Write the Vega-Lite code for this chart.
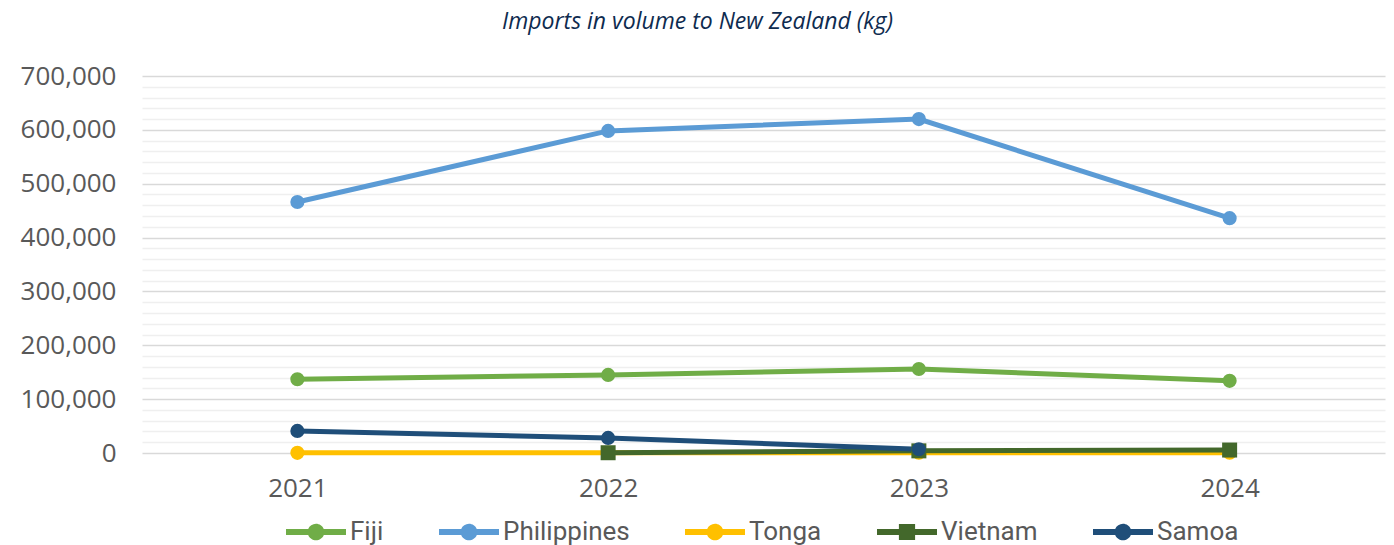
{
  "$schema": "https://vega.github.io/schema/vega-lite/v6.json",
  "autosize": {"type": "none"},
  "width": 1243,
  "height": 377,
  "padding": {"left": 142, "top": 76, "right": 9, "bottom": 92},
  "background": "white",
  "config": {"view": {"stroke": null}},
  "title": {
    "text": "Imports in volume to New Zealand (kg)",
    "font": "Open Sans",
    "fontStyle": "italic",
    "fontWeight": "normal",
    "fontSize": 23,
    "color": "#0e2b4f",
    "anchor": "middle",
    "dx": -66,
    "offset": 29
  },
  "data": {
    "values": [
      {"year": "2021", "country": "Fiji", "value": 137000},
      {"year": "2022", "country": "Fiji", "value": 145000},
      {"year": "2023", "country": "Fiji", "value": 156000},
      {"year": "2024", "country": "Fiji", "value": 134000},
      {"year": "2021", "country": "Philippines", "value": 466000},
      {"year": "2022", "country": "Philippines", "value": 598000},
      {"year": "2023", "country": "Philippines", "value": 620000},
      {"year": "2024", "country": "Philippines", "value": 436000},
      {"year": "2021", "country": "Tonga", "value": 300},
      {"year": "2022", "country": "Tonga", "value": 300},
      {"year": "2023", "country": "Tonga", "value": 500},
      {"year": "2024", "country": "Tonga", "value": 500},
      {"year": "2022", "country": "Vietnam", "value": 500},
      {"year": "2023", "country": "Vietnam", "value": 4000},
      {"year": "2024", "country": "Vietnam", "value": 5500},
      {"year": "2021", "country": "Samoa", "value": 41000},
      {"year": "2022", "country": "Samoa", "value": 28000},
      {"year": "2023", "country": "Samoa", "value": 7000}
    ]
  },
  "encoding": {
    "x": {
      "field": "year", "type": "ordinal",
      "scale": {"type": "point", "padding": 0.5},
      "axis": {
        "title": null, "domain": false, "ticks": false, "grid": false,
        "labelAngle": 0, "labelFont": "Open Sans", "labelFontSize": 26,
        "labelColor": "#595959", "labelPadding": 22
      }
    },
    "y": {
      "field": "value", "type": "quantitative",
      "scale": {"domain": [0, 700000], "nice": false},
      "axis": {
        "title": null, "domain": false, "ticks": false,
        "values": [0,20000,40000,60000,80000,100000,120000,140000,160000,180000,200000,220000,240000,260000,280000,300000,320000,340000,360000,380000,400000,420000,440000,460000,480000,500000,520000,540000,560000,580000,600000,620000,640000,660000,680000,700000],
        "labelExpr": "datum.value % 100000 === 0 ? format(datum.value, ',') : ''",
        "labelFont": "Open Sans", "labelFontSize": 26, "labelColor": "#595959",
        "labelPadding": 26,
        "gridColor": {"condition": {"test": "datum.value % 100000 === 0", "value": "#d9d9d9"}, "value": "#efefef"},
        "gridWidth": 1.5
      }
    },
    "color": {
      "field": "country", "type": "nominal",
      "sort": ["Fiji", "Philippines", "Tonga", "Vietnam", "Samoa"],
      "scale": {
        "domain": ["Fiji", "Philippines", "Tonga", "Vietnam", "Samoa"],
        "range": ["#70ad47", "#5b9bd5", "#ffc000", "#43682b", "#1f4e79"]
      }
    }
  },
  "layer": [
    {
      "mark": {"type": "line", "strokeWidth": 5},
      "encoding": {
        "color": {
          "field": "country", "type": "nominal",
          "sort": ["Fiji", "Philippines", "Tonga", "Vietnam", "Samoa"],
          "legend": {
            "orient": "none",
            "legendX": 144,
            "legendY": 426,
            "direction": "horizontal",
            "title": null,
            "columnPadding": 55,
            "symbolSize": 3600,
            "symbolType": "M-1,-0.1L1,-0.1L1,0.1L-1,0.1Z",
            "symbolStrokeWidth": 0,
            "labelFont": "Roboto",
            "labelFontSize": 26,
            "labelColor": "#595959",
            "labelOffset": 4,
            "encode": {
              "symbols": {
                "update": {
                  "shape": {"signal": "datum.value === 'Vietnam' ? 'M-1,-0.1L-0.27,-0.1L-0.27,-0.27L0.27,-0.27L0.27,-0.1L1,-0.1L1,0.1L0.27,0.1L0.27,0.27L-0.27,0.27L-0.27,0.1L-1,0.1Z' : 'M-1,-0.1L-0.26,-0.1A0.28,0.28 0 0,1 0.26,-0.1L1,-0.1L1,0.1L0.26,0.1A0.28,0.28 0 0,1 -0.26,0.1L-1,0.1Z'"},
                  "fill": {"scale": "color", "field": "value"},
                  "strokeWidth": {"value": 0}
                }
              }
            }
          }
        }
      }
    },
    {
      "mark": {"type": "point", "filled": true, "opacity": 1},
      "encoding": {
        "shape": {
          "condition": {"test": "datum.country === 'Vietnam'", "value": "square"},
          "value": "circle"
        },
        "size": {
          "condition": {"test": "datum.country === 'Vietnam'", "value": 225},
          "value": 200
        }
      }
    }
  ]
}
